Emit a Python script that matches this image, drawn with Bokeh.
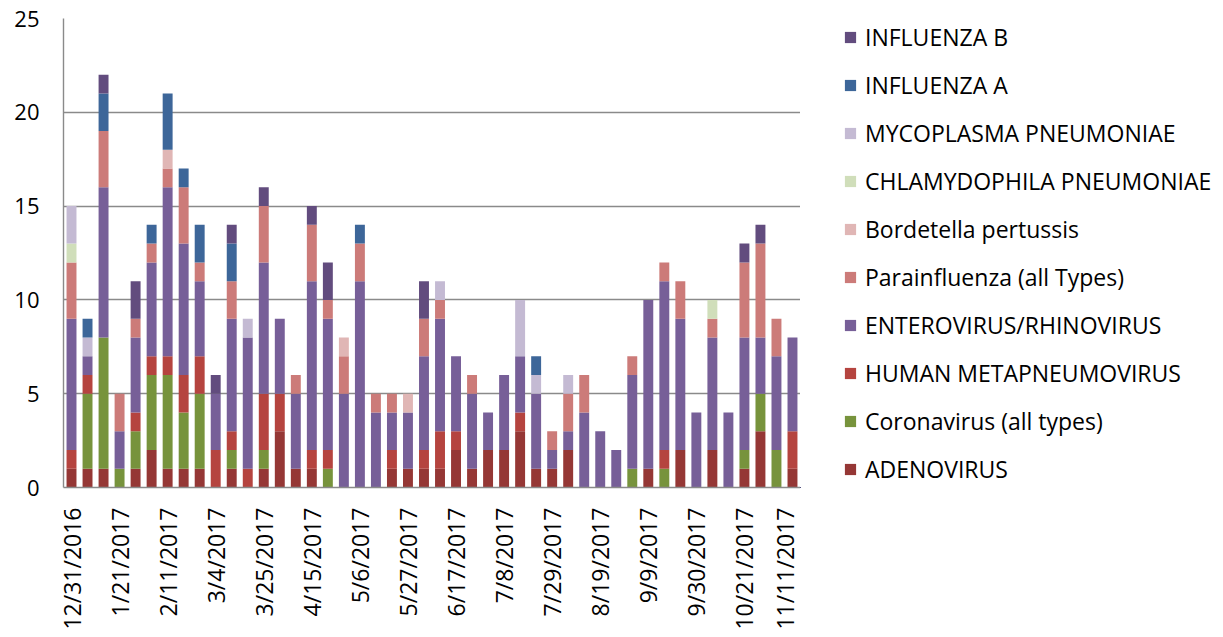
import math
from bokeh.plotting import figure
from bokeh.layouts import row
from bokeh.models import ColumnDataSource, Range1d, FixedTicker, Legend, LegendItem
from bokeh.embed import file_html
from bokeh.resources import INLINE

weeks = ["12/31/2016", "1/7/2017", "1/14/2017", "1/21/2017", "1/28/2017", "2/4/2017",
         "2/11/2017", "2/18/2017", "2/25/2017", "3/4/2017", "3/11/2017", "3/18/2017",
         "3/25/2017", "4/1/2017", "4/8/2017", "4/15/2017", "4/22/2017", "4/29/2017",
         "5/6/2017", "5/13/2017", "5/20/2017", "5/27/2017", "6/3/2017", "6/10/2017",
         "6/17/2017", "6/24/2017", "7/1/2017", "7/8/2017", "7/15/2017", "7/22/2017",
         "7/29/2017", "8/5/2017", "8/12/2017", "8/19/2017", "8/26/2017", "9/2/2017",
         "9/9/2017", "9/16/2017", "9/23/2017", "9/30/2017", "10/7/2017", "10/14/2017",
         "10/21/2017", "10/28/2017", "11/4/2017", "11/11/2017"]

adenovirus = [1,1,1,0,1,2,1,1,1,0, 1,0,1,3,1,1,0,0,0,0, 1,1,1,1,2,1,2,2,3,1,
              1,2,0,0,0,0,1,0,2,0, 2,0,1,3,0,1]
coronavirus = [0,4,7,1,2,4,5,3,4,0, 1,0,1,0,0,0,1,0,0,0, 0,0,0,0,0,0,0,0,0,0,
               0,0,0,0,0,1,0,1,0,0, 0,0,1,2,2,0]
metapneumovirus = [1,1,0,0,1,1,1,2,2,2, 1,1,3,2,0,1,1,0,0,0, 1,0,1,2,1,0,0,0,1,0,
                   0,0,0,0,0,0,0,1,0,0, 0,0,0,0,0,2]
enterovirus = [7,1,8,2,4,5,9,7,4,3, 6,7,7,4,4,9,7,5,11,4, 2,3,5,6,4,4,2,4,3,4,
               1,1,4,3,2,5,9,9,7,4, 6,4,6,3,5,5]
parainfluenza = [3,0,3,2,1,1,1,3,1,0, 2,0,3,0,1,3,1,2,2,1, 1,0,2,1,0,1,0,0,0,0,
                 1,2,2,0,0,1,0,1,2,0, 1,0,4,5,2,0]
bordetella = [0,0,0,0,0,0,1,0,0,0, 0,0,0,0,0,0,0,1,0,0, 0,1,0,0,0,0,0,0,0,0,
              0,0,0,0,0,0,0,0,0,0, 0,0,0,0,0,0]
chlamydophila = [1,0,0,0,0,0,0,0,0,0, 0,0,0,0,0,0,0,0,0,0, 0,0,0,0,0,0,0,0,0,0,
                 0,0,0,0,0,0,0,0,0,0, 1,0,0,0,0,0]
mycoplasma = [2,1,0,0,0,0,0,0,0,0, 0,1,0,0,0,0,0,0,0,0, 0,0,0,1,0,0,0,0,3,1,
              0,1,0,0,0,0,0,0,0,0, 0,0,0,0,0,0]
influenza_a = [0,1,2,0,0,1,3,1,2,0, 2,0,0,0,0,0,0,0,1,0, 0,0,0,0,0,0,0,0,0,1,
               0,0,0,0,0,0,0,0,0,0, 0,0,0,0,0,0]
influenza_b = [0,0,1,0,2,0,0,0,0,1, 1,0,1,0,0,1,2,0,0,0, 0,0,2,0,0,0,0,0,0,0,
               0,0,0,0,0,0,0,0,0,0, 0,0,1,1,0,0]

series_names = ["ADENOVIRUS", "Coronavirus (all types)", "HUMAN METAPNEUMOVIRUS",
                "ENTEROVIRUS/RHINOVIRUS", "Parainfluenza (all Types)", "Bordetella pertussis",
                "CHLAMYDOPHILA PNEUMONIAE", "MYCOPLASMA PNEUMONIAE", "INFLUENZA A", "INFLUENZA B"]
series_values = [adenovirus, coronavirus, metapneumovirus, enterovirus, parainfluenza,
                 bordetella, chlamydophila, mycoplasma, influenza_a, influenza_b]
colors = ["#953735", "#77933C", "#B5443F", "#775F98", "#CC7B79",
          "#E0B6B5", "#D0DEBA", "#C4BAD3", "#3D6699", "#624C7E"]

keys = ["s%d" % i for i in range(len(series_names))]
data = {"x": list(range(len(weeks)))}
for k, v in zip(keys, series_values):
    data[k] = v
source = ColumnDataSource(data)

FONT = "Open Sans"
GRID = "#8A8A8A"
H = 632

p = figure(width=800, height=H, output_backend="svg", toolbar_location=None,
           x_range=Range1d(-0.5, len(weeks) - 0.5), y_range=Range1d(0, 25),
           min_border_left=63, min_border_right=0, min_border_top=18, min_border_bottom=H - 489)
p.outline_line_color = None
p.background_fill_color = "white"
p.border_fill_color = "white"

renderers = p.vbar_stack(keys, x="x", width=0.62, source=source, color=colors,
                         line_color=None)

p.xgrid.grid_line_color = None
p.ygrid.grid_line_color = GRID
p.ygrid.grid_line_width = 1.4
p.ygrid.ticker = FixedTicker(ticks=[0, 5, 10, 15, 20, 25])

p.yaxis.ticker = FixedTicker(ticks=[0, 5, 10, 15, 20, 25])
p.yaxis.major_tick_line_color = None
p.yaxis.minor_tick_line_color = None
p.yaxis.major_tick_out = 0
p.yaxis.major_tick_in = 0
p.yaxis.axis_line_color = GRID
p.yaxis.axis_line_width = 1.4
p.yaxis.major_label_standoff = 24
p.yaxis.major_label_text_font = FONT
p.yaxis.major_label_text_font_size = "22px"
p.yaxis.major_label_text_color = "#000000"

tick_idx = list(range(0, len(weeks), 3))
p.xaxis.ticker = FixedTicker(ticks=tick_idx)
p.xaxis.major_label_overrides = {i: weeks[i] for i in tick_idx}
p.xaxis.major_label_orientation = math.pi / 2
p.xaxis.major_tick_line_color = None
p.xaxis.minor_tick_line_color = None
p.xaxis.major_tick_out = 0
p.xaxis.major_tick_in = 0
p.xaxis.axis_line_color = GRID
p.xaxis.axis_line_width = 1.4
p.xaxis.major_label_standoff = 20
p.xaxis.major_label_text_font = FONT
p.xaxis.major_label_text_font_size = "23px"
p.xaxis.major_label_text_color = "#000000"

# legend panel: same stacked data, kept out of view, only used for legend swatches
lg = figure(width=423, height=H, output_backend="svg", toolbar_location=None,
            x_range=Range1d(1000, 1001), y_range=Range1d(1000, 1001),
            x_axis_location=None, y_axis_location=None,
            min_border_left=0, min_border_right=0, min_border_top=18,
            min_border_bottom=H - 489)
lg.grid.visible = False
lg.outline_line_color = None
lg.border_fill_color = "white"
lg.background_fill_alpha = 0
legend_renderers = lg.vbar_stack(keys, x="x", width=0.62, source=source, color=colors,
                                 line_color=None)
items = [LegendItem(label=n, renderers=[r]) for n, r in zip(series_names, legend_renderers)]
items.reverse()
legend = Legend(items=items, location=(43, 2), orientation="vertical",
                glyph_width=14, glyph_height=14, label_standoff=8,
                label_height=32, spacing=16, padding=0, margin=0,
                label_text_font=FONT, label_text_font_size="23px",
                label_text_color="#000000", border_line_color=None,
                background_fill_alpha=0)
lg.add_layout(legend, "center")

layout = row(p, lg, spacing=0)
open("out.html", "w").write(file_html(layout, INLINE))
